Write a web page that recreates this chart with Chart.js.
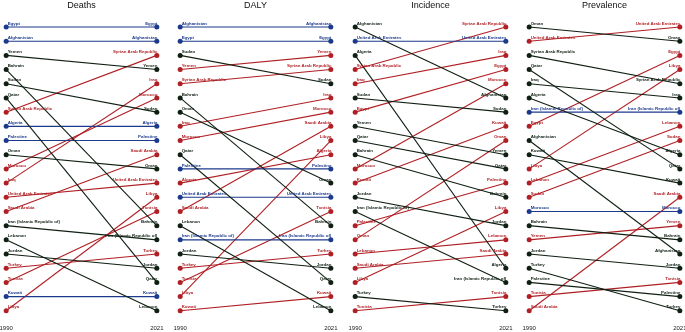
<!DOCTYPE html>
<html>
<head>
<meta charset="utf-8">
<script src="https://cdn.jsdelivr.net/npm/chart.js@4"></script>
<style>
  html, body { margin: 0; padding: 0; background: #fff; }
  body { width: 685px; height: 332px; position: relative; overflow: hidden; }
  .panel { position: absolute; top: 0; width: 191px; height: 345px; }
</style>
</head>
<body>
<div class="panel" id="p0"><canvas id="c0" width="191" height="345"></canvas></div>
<div class="panel" id="p1"><canvas id="c1" width="191" height="345"></canvas></div>
<div class="panel" id="p2"><canvas id="c2" width="191" height="345"></canvas></div>
<div class="panel" id="p3"><canvas id="c3" width="191" height="345"></canvas></div>
<script>
// ================= DATA =================
const years = ['1990', '2021'];

// Countries listed in 1990 rank order (rank 1 first); second array = rank in 2021
const deathsNames = ['Egypt', 'Afghanistan', 'Yemen', 'Bahrain', 'Sudan', 'Qatar', 'Syrian Arab Republic',
    'Algeria', 'Palestine', 'Oman', 'Morocco', 'Iraq', 'United Arab Emirates', 'Saudi Arabia',
    'Iran (Islamic Republic of)', 'Lebanon', 'Jordan', 'Turkey', 'Tunisia', 'Kuwait', 'Libya'];
const deathsRank2021 = [1, 2, 4, 15, 7, 19, 3, 8, 9, 11, 6, 5, 12, 10, 16, 21, 18, 17, 14, 20, 13];

const dalyNames = ['Afghanistan', 'Egypt', 'Sudan', 'Yemen', 'Syrian Arab Republic', 'Bahrain', 'Oman',
    'Iraq', 'Morocco', 'Qatar', 'Palestine', 'Algeria', 'United Arab Emirates', 'Saudi Arabia',
    'Lebanon', 'Iran (Islamic Republic of)', 'Jordan', 'Turkey', 'Tunisia', 'Libya', 'Kuwait'];
const dalyRank2021 = [1, 2, 5, 3, 4, 15, 12, 6, 7, 19, 11, 10, 13, 8, 21, 16, 18, 17, 14, 9, 20];

const incidenceNames = ['Afghanistan', 'United Arab Emirates', 'Algeria', 'Syrian Arab Republic', 'Iraq',
    'Sudan', 'Egypt', 'Yemen', 'Qatar', 'Bahrain', 'Morocco', 'Kuwait', 'Jordan',
    'Iran (Islamic Republic of)', 'Palestine', 'Oman', 'Lebanon', 'Saudi Arabia', 'Libya', 'Turkey', 'Tunisia'];
const incidenceRank2021 = [6, 2, 18, 1, 3, 7, 4, 10, 11, 13, 5, 8, 15, 19, 12, 9, 16, 17, 14, 21, 20];

const prevalenceNames = ['Oman', 'United Arab Emirates', 'Syrian Arab Republic', 'Qatar', 'Iraq', 'Algeria',
    'Iran (Islamic Republic of)', 'Egypt', 'Afghanistan', 'Kuwait', 'Libya', 'Lebanon', 'Sudan', 'Morocco',
    'Bahrain', 'Yemen', 'Jordan', 'Turkey', 'Palestine', 'Tunisia', 'Saudi Arabia'];
const prevalenceRank2021 = [2, 1, 5, 11, 6, 10, 7, 3, 17, 12, 4, 8, 9, 14, 16, 15, 18, 21, 20, 19, 13];

const titles = ['Deaths', 'DALY', 'Incidence', 'Prevalence'];

// ================= STYLE =================
const COLORS = {
    up: '#b01f24',     // better rank in 2021
    down: '#0f1f12',   // worse rank in 2021
    same: '#1c3a8c'    // unchanged
};
const PANEL_LEFT = [6, 180, 355, 529]; // x of the 1990 points
const INSET = 20; // room chart.js keeps beside the plot area

// Draws country names above each end point
const nameLabels = {
    id: 'nameLabels',
    afterDatasetsDraw(chart) {
        const ctx = chart.ctx;
        ctx.save();
        ctx.font = 'bold 4.4px "Liberation Sans", Arial, sans-serif';
        ctx.textBaseline = 'alphabetic';
        chart.data.datasets.forEach((ds, i) => {
            const pts = chart.getDatasetMeta(i).data;
            ctx.fillStyle = ds.borderColor;
            ctx.textAlign = 'left';
            ctx.fillText(ds.label, pts[0].x + 1.5, pts[0].y - 2.4);
            ctx.textAlign = 'right';
            ctx.fillText(ds.label, pts[1].x + 0.5, pts[1].y - 2.4);
        });
        ctx.restore();
    }
};

function buildDatasets(names, rank2021) {
    return names.map((name, i) => {
        const r0 = i + 1;
        const r1 = rank2021[i];
        const col = r1 < r0 ? COLORS.up : (r1 > r0 ? COLORS.down : COLORS.same);
        return {
            label: name,
            data: [r0, r1],
            borderColor: col,
            backgroundColor: col,
            borderWidth: 1.1,
            pointRadius: 2.5,
            pointBorderWidth: 0,
            pointHoverRadius: 2.5,
            tension: 0,
            clip: false
        };
    });
}

function makeChart(idx, names, rank2021) {
    const panel = document.getElementById('p' + idx);
    panel.style.left = (PANEL_LEFT[idx] - INSET) + 'px';
    new Chart(document.getElementById('c' + idx), {
        type: 'line',
        data: { labels: years, datasets: buildDatasets(names, rank2021) },
        plugins: [nameLabels],
        options: {
            responsive: false,
            animation: false,
            devicePixelRatio: 1,
            layout: { padding: { left: 0, right: 0, top: 0, bottom: 0 } },
            plugins: {
                legend: { display: false },
                tooltip: { enabled: false },
                title: {
                    display: true,
                    text: titles[idx],
                    color: '#111',
                    font: { size: 9, family: '"Liberation Sans", Arial, sans-serif', weight: 'normal' },
                    padding: { top: 0, bottom: 16.2 }
                }
            },
            scales: {
                x: {
                    type: 'category',
                    offset: false,
                    grid: { display: false, drawTicks: false },
                    border: { display: false },
                    ticks: {
                        color: '#222',
                        padding: 13.5,
                        maxRotation: 0,
                        font: { size: 6, family: '"Liberation Sans", Arial, sans-serif' }
                    }
                },
                y: {
                    display: false,
                    reverse: true,
                    min: 1,
                    max: 21
                }
            }
        }
    });
}

makeChart(0, deathsNames, deathsRank2021);
makeChart(1, dalyNames, dalyRank2021);
makeChart(2, incidenceNames, incidenceRank2021);
makeChart(3, prevalenceNames, prevalenceRank2021);
</script>
</body>
</html>
